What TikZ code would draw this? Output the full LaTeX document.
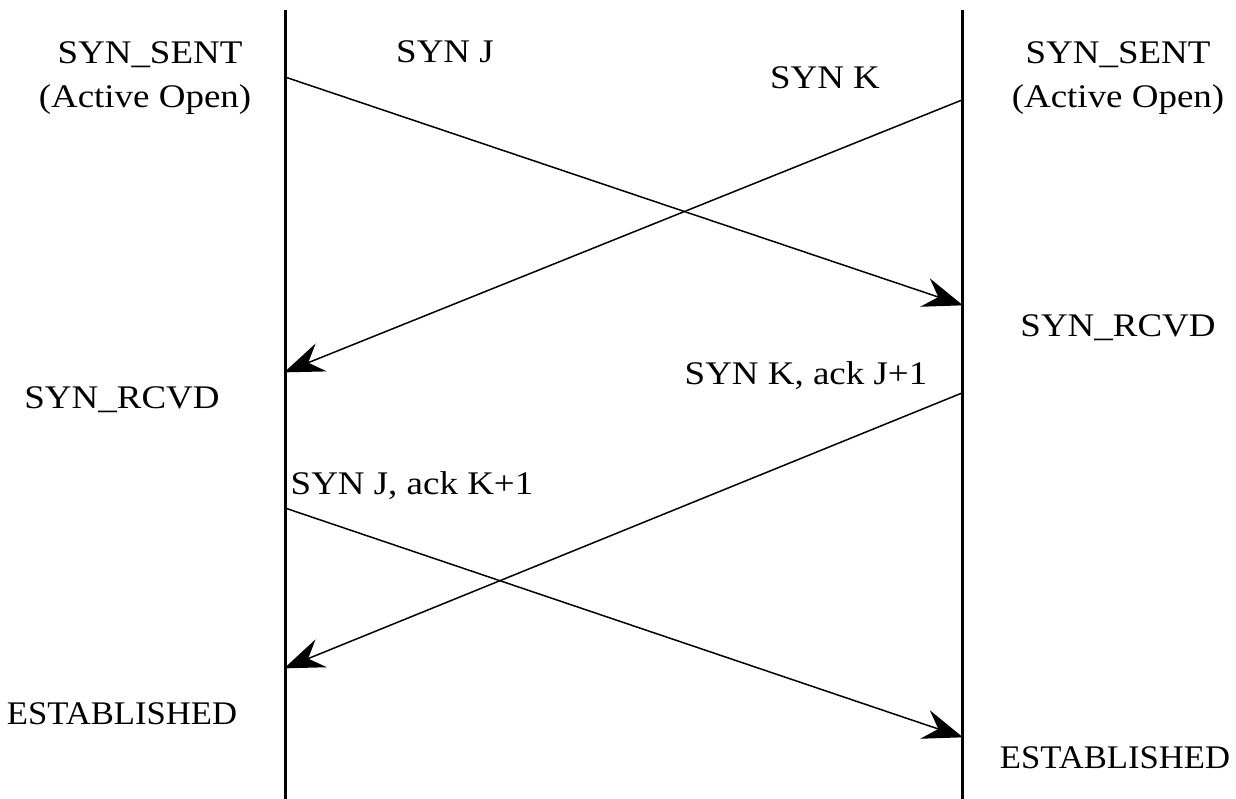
\documentclass[tikz,border=0pt]{standalone}
\usepackage{fontspec}
\setmainfont{Liberation Serif}
\usetikzlibrary{arrows.meta}
\begin{document}
\begin{tikzpicture}[x=1pt,y=-1pt,
  lbl/.style={font=\fontsize{33}{38}\selectfont, inner sep=0pt, align=center, xscale=1.12},
  lblnarrow/.style={lbl, xscale=1.05/1.12},
  msg/.style={line width=1.5pt, -{Stealth[length=40pt,width=30pt,inset=14pt]}, shorten >=-1pt},
  life/.style={line width=3pt}]
\useasboundingbox (0,0) rectangle (1236,799);
\fill[white] (0,0) rectangle (1236,799);
\coordinate (Ltop) at (285,10);
\coordinate (Lbot) at (285,799);
\coordinate (Rtop) at (962,10);
\coordinate (Rbot) at (962,799);
\draw[life] (Ltop) -- (Lbot);
\draw[life] (Rtop) -- (Rbot);
\coordinate (a1) at (285,77);
\coordinate (b1) at (962,305);
\coordinate (a2) at (962,100);
\coordinate (b2) at (285,372);
\coordinate (a3) at (962,393);
\coordinate (b3) at (285,668);
\coordinate (a4) at (285,508);
\coordinate (b4) at (962,737);
\draw[msg] (a1) -- (b1);
\draw[msg] (a2) -- (b2);
\draw[msg] (a3) -- (b3);
\draw[msg] (a4) -- (b4);
\node[lbl] (ls1) at (150,55) {SYN\_SENT};
\node[lbl] (ls2) at (145,100) {(Active Open)};
\node[lbl] (rs1) at (1118,55) {SYN\_SENT};
\node[lbl] (rs2) at (1118,100) {(Active Open)};
\node[lbl] (sj) at (445,52) {SYN J};
\node[lbl] (sk) at (825,78) {SYN K};
\node[lbl] (rr) at (1118,328) {SYN\_RCVD};
\node[lbl] (lr) at (122,400) {SYN\_RCVD};
\node[lbl] (skj) at (806,376) {SYN K, ack J+1};
\node[lbl] (sjk) at (412,486) {SYN J, ack K+1};
\node[lblnarrow] (le) at (122,714) {ESTABLISHED};
\node[lblnarrow] (re) at (1115,758) {ESTABLISHED};
\end{tikzpicture}
\end{document}
